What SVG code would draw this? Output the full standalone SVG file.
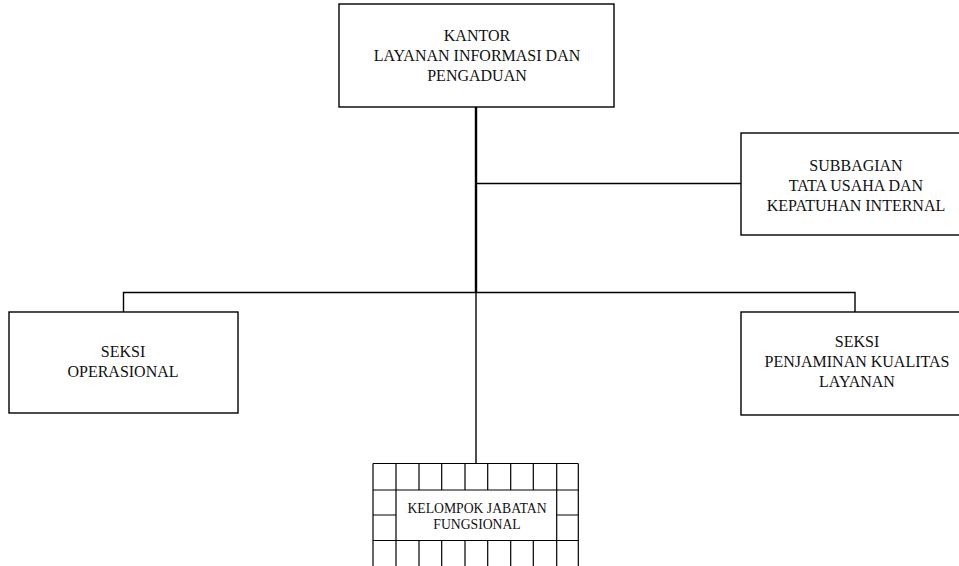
<svg xmlns="http://www.w3.org/2000/svg" width="959" height="566" viewBox="0 0 959 566">
<style>
.box{fill:#fff;stroke:#000;stroke-width:1.4}
.ln{stroke:#000;stroke-width:1.4;fill:none}
.thick{stroke:#000;stroke-width:2.4;fill:none}
.g{stroke:#000;stroke-width:1.2;fill:none}
.t{font-family:'Liberation Serif','DejaVu Serif',serif;font-size:16px;fill:#111;text-anchor:middle}
.sm{font-size:13.7px}
</style>
<rect width="959" height="566" fill="#fff"/>
<g id="connectors">
<line class="thick" x1="476" y1="107" x2="476" y2="293"/>
<line class="ln" x1="476" y1="183.5" x2="741" y2="183.5"/>
<polyline class="ln" points="123.5,312 123.5,292.5 855,292.5 855,312"/>
<line class="ln" x1="476" y1="293" x2="476" y2="463.5"/>
</g>
<g id="kantor">
<rect class="box" x="339" y="4" width="275" height="103"/>
<text class="t" x="477" y="41">KANTOR</text>
<text class="t" x="477" y="61">LAYANAN INFORMASI DAN</text>
<text class="t" x="477" y="81">PENGADUAN</text>
</g>
<g id="subbagian">
<rect class="box" x="741" y="133" width="225" height="102"/>
<text class="t" x="856" y="171">SUBBAGIAN</text>
<text class="t" x="856" y="191">TATA USAHA DAN</text>
<text class="t" x="856" y="211">KEPATUHAN INTERNAL</text>
</g>
<g id="seksi-operasional">
<rect class="box" x="9" y="312" width="229" height="101"/>
<text class="t" x="123" y="357">SEKSI</text>
<text class="t" x="123" y="377">OPERASIONAL</text>
</g>
<g id="seksi-penjaminan">
<rect class="box" x="741" y="312" width="225" height="103"/>
<text class="t" x="857" y="347">SEKSI</text>
<text class="t" x="857" y="367">PENJAMINAN KUALITAS</text>
<text class="t" x="857" y="387">LAYANAN</text>
</g>
<g id="kelompok-jabatan">
<rect x="373" y="463.5" width="205" height="104" fill="#fff"/>
<path class="g" d="M373,463.5H578.3M373,490H396M556.7,490H578.3M373,515H396M556.7,515H578.3M373,540.5H578.3M396,490H556.7
M373,463.5V567M396,463.5V567M419,463.5V490M419,540.5V567M441.7,463.5V490M441.7,540.5V567M465,463.5V490M465,540.5V567M487.7,463.5V490M487.7,540.5V567M510.7,463.5V490M510.7,540.5V567M533.3,463.5V490M533.3,540.5V567M556.7,463.5V567M578.3,463.5V567"/>
<text class="t sm" x="477" y="513">KELOMPOK JABATAN</text>
<text class="t sm" x="477" y="529">FUNGSIONAL</text>
</g>
</svg>
